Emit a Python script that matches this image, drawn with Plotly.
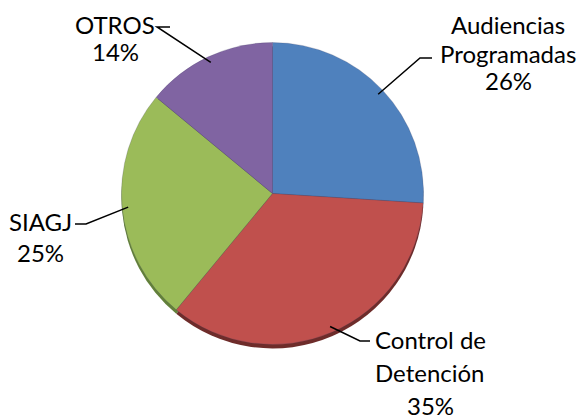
import math
import plotly.graph_objects as go

# Datos
categorias = ["Audiencias Programadas", "Control de Detención", "SIAGJ", "OTROS"]
valores = [26, 35, 25, 14]
etiquetas = [["Audiencias", "Programadas", "26%"],
             ["Control de", "Detención", "35%"],
             ["SIAGJ", "25%"],
             ["OTROS", "14%"]]

colores = ["#4F81BD", "#C0504D", "#9BBB59", "#8064A2"]
colores_borde = ["#34587F", "#6E2C2A", "#62803A", "#56407A"]

W, H = 586, 419
OFF = 8  # margen del body de la pagina
cx, cy, r = 272.5, 193.5, 151  # centro y radio del pastel en pixeles


def px(x):
    return (x - OFF) / W


def py(y):
    return 1 - (y - OFF) / H


dom_x = [px(cx - r), px(cx + r)]
dom_y = [py(cy + r), py(cy - r)]
dom_y_sombra = [py(cy + r + 4), py(cy - r + 4)]

fig = go.Figure()

# borde 3D (pastel oscuro desplazado)
fig.add_trace(go.Pie(
    labels=categorias, values=valores, sort=False, direction="clockwise",
    marker=dict(colors=colores_borde), textinfo="none", hoverinfo="skip",
    domain=dict(x=dom_x, y=dom_y_sombra), showlegend=False,
))
fig.add_trace(go.Pie(
    labels=categorias, values=valores, sort=False, direction="clockwise",
    marker=dict(colors=colores, line=dict(color="rgba(60,60,90,0.35)", width=0.6)),
    textinfo="none", domain=dict(x=dom_x, y=dom_y), showlegend=False,
))

# posiciones de las etiquetas (pixeles): codo de la linea, extremo horizontal, texto
codos = [(420, 58), (360, 341), (86, 224), (157, 27)]
extremos = [(432, 58), (370, 341), (75, 224), (170, 27)]
textos = [(508, 25, 28), (430, 339, 33), (40, 221, 31), (115, 24, 28)]

total = sum(valores)
acum = 0
for i, v in enumerate(valores):
    medio = (acum + v / 2) / total * 2 * math.pi
    acum += v
    rx = cx + 0.96 * r * math.sin(medio)
    ry = cy - 0.96 * r * math.cos(medio)
    ex, ey = codos[i]
    hx, hy = extremos[i]
    fig.add_shape(type="path",
                  path=f"M {px(rx)} {py(ry)} L {px(ex)} {py(ey)} L {px(hx)} {py(hy)}",
                  xref="paper", yref="paper", line=dict(color="black", width=1.5))
    tx, ty, paso = textos[i]
    for j, linea in enumerate(etiquetas[i]):
        fig.add_annotation(x=px(tx), y=py(ty + j * paso), xref="paper", yref="paper",
                           text=linea, showarrow=False, xanchor="center", yanchor="middle",
                           borderpad=0,
                           font=dict(family="Lato, Carlito, sans-serif", size=24, color="black"))

fig.update_layout(
    width=W, height=H,
    margin=dict(l=0, r=0, t=0, b=0),
    paper_bgcolor="white", plot_bgcolor="white",
)

fig.write_html("out.html")
